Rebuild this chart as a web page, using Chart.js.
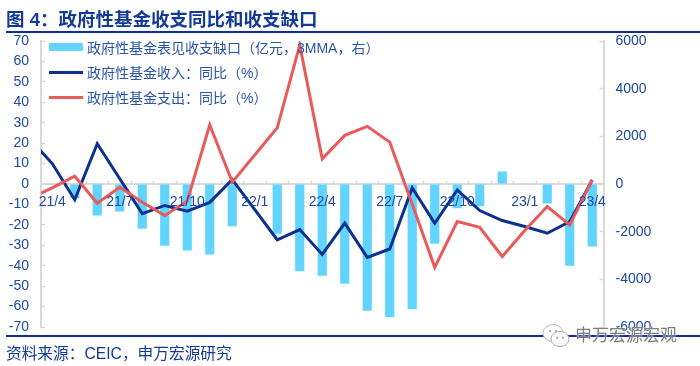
<!DOCTYPE html>
<html>
<head>
<meta charset="utf-8">
<script src="https://cdn.jsdelivr.net/npm/chart.js@4"></script>
<style>
  body { margin: 0; background: #fff; font-family: "Liberation Sans", "Noto Sans CJK SC", sans-serif; }
  #wrap { position: relative; width: 700px; height: 366px; overflow: hidden; }
  canvas { position: absolute; left: 0; top: 0; }
  .title { position: absolute; left: 6px; top: 8px; font-size: 18.5px; line-height: 24px; font-weight: bold; color: #123a96; white-space: nowrap; }
  .rule { position: absolute; left: 6px; width: 694px; height: 2px; background: #0a2ea0; }
  .source { position: absolute; left: 6px; top: 344px; font-size: 15.7px; line-height: 20px; color: #123a96; white-space: nowrap; }
  .legend-row { position: absolute; left: 49px; height: 20px; display: flex; align-items: center; font-size: 14px; color: #2a54a8; white-space: nowrap; }
  .legend-row i { display: block; width: 34px; margin-right: 4px; }
  .mark { position: absolute; left: 575px; top: 326px; font-size: 17px; line-height: 20px; color: #7d7d7d; white-space: nowrap; text-shadow: 0 0 2px #fff; }
  svg { position: absolute; left: 542px; top: 323px; }
</style>
</head>
<body>
<div id="wrap">
  <canvas id="fundChart" width="700" height="366"></canvas>
  <div class="title">图 4：政府性基金收支同比和收支缺口</div>
  <div class="rule" style="top:31px"></div>
  <div class="rule" style="top:335px"></div>
  <div class="source">资料来源：CEIC，申万宏源研究</div>
  <div id="legend"></div>
  <svg width="28" height="26" viewBox="0 0 28 26">
    <ellipse cx="11" cy="10" rx="10" ry="8.5" fill="#fff" stroke="#bbb"/>
    <ellipse cx="18" cy="16" rx="9" ry="7.5" fill="#fff" stroke="#aaa"/>
    <circle cx="8" cy="8" r="1" fill="#999"/><circle cx="14" cy="8" r="1" fill="#999"/>
    <circle cx="15" cy="15" r="1" fill="#999"/><circle cx="21" cy="15" r="1" fill="#999"/>
  </svg>
  <div class="mark">申万宏源宏观</div>
</div>
<script>
const categories = ['21/3', '21/4', '21/5', '21/6', '21/7', '21/8', '21/9', '21/10', '21/11', '21/12',
  '22/1', '22/2', '22/3', '22/4', '22/5', '22/6', '22/7', '22/8', '22/9', '22/10', '22/11', '22/12',
  '23/1', '23/2', '23/3', '23/4'];
const tickLabels = ['21/4', '21/7', '21/10', '22/1', '22/4', '22/7', '22/10', '23/1', '23/4'];

// right axis, 100 million yuan (21/3 sits left of the axis, only its line segment shows)
const gapValues = [null, -30, -600, -1320, -1155, -1880, -2590, -2790, -2960, -1770,
  0, -2090, -3660, -3850, -4190, -5320, -5590, -5240, -2510, -1015, -930, 525,
  0, -820, -3430, -2620];
const incomeValues = [22, 10, -7.7, 19.7, 2.6, -14.5, -10.5, -13.3, -9, 2.2,
  -12.5, -27.3, -22.3, -34.5, -19.2, -35.9, -31.8, -1.9, -19.2, -2.9, -13, -17.9,
  -20.8, -24.1, -18.4, 2];
const spendValues = [-7, -1.9, 3.8, -9.4, -1.6, -8.9, -15.4, -8.4, 29, 0.9,
  14.2, 27.5, 68, 12.3, 23.8, 28.2, 20.5, -9.9, -40.8, -18.4, -21.2, -35.5,
  -22.8, -11, -20, 2];

const gapName = '政府性基金表见收支缺口（亿元，3MMA，右）';
const incomeName = '政府性基金收入：同比（%）';
const spendName = '政府性基金支出：同比（%）';

const barColor = '#61d4ff';
const incomeColor = '#0b318f';
const spendColor = '#e95a5a';
const axisGray = '#d9d9d9';
const axisText = '#1f49a5';

// legend sits over the plot, so it is laid out by hand
const legendRows = [
  { name: gapName, color: barColor, h: 8, top: 37 },
  { name: incomeName, color: incomeColor, h: 3, top: 62 },
  { name: spendName, color: spendColor, h: 3, top: 87 }
];
const legendEl = document.getElementById('legend');
legendRows.forEach(row => {
  const div = document.createElement('div');
  div.className = 'legend-row';
  div.style.top = row.top + 'px';
  div.innerHTML = '<i style="height:' + row.h + 'px;background:' + row.color + '"></i>' + row.name;
  legendEl.appendChild(div);
});

const ctx = document.getElementById('fundChart').getContext('2d');
new Chart(ctx, {
  data: {
    labels: categories,
    datasets: [
      { type: 'line', label: spendName, data: spendValues, yAxisID: 'y', borderColor: spendColor, borderWidth: 3, pointRadius: 0, tension: 0, order: 1 },
      { type: 'line', label: incomeName, data: incomeValues, yAxisID: 'y', borderColor: incomeColor, borderWidth: 3, pointRadius: 0, tension: 0, order: 2 },
      { type: 'bar', label: gapName, data: gapValues, yAxisID: 'y2', backgroundColor: barColor, barPercentage: 0.41, categoryPercentage: 1, order: 3 }
    ]
  },
  options: {
    responsive: false,
    animation: false,
    layout: { padding: { top: 41, bottom: 39 } },
    plugins: { legend: { display: false }, tooltip: { enabled: false } },
    scales: {
      x: {
        type: 'category',
        min: '21/4',
        offset: true,
        position: { y: 0 },
        grid: { offset: true, drawOnChartArea: false, tickLength: -4, tickColor: axisGray, tickWidth: 1.5 },
        border: { color: axisGray, width: 2 },
        ticks: {
          z: 1,
          autoSkip: false,
          maxRotation: 0,
          padding: 14,
          color: axisText,
          font: { size: 14, family: '"Liberation Sans"' },
          callback: function (value) {
            const label = this.getLabelForValue(value);
            return tickLabels.includes(label) ? label : '';
          }
        }
      },
      y: {
        position: 'left',
        min: -70,
        max: 70,
        afterFit: scale => { scale.width = 41; },
        grid: { drawOnChartArea: false, tickLength: -4, tickColor: axisGray, tickWidth: 1.5 },
        border: { color: axisGray, width: 2 },
        ticks: { stepSize: 10, padding: 16, color: axisText, font: { size: 14, family: '"Liberation Sans"' } }
      },
      y2: {
        position: 'right',
        min: -6000,
        max: 6000,
        afterFit: scale => { scale.width = 96.5; },
        grid: { drawOnChartArea: false, tickLength: -4, tickColor: axisGray, tickWidth: 1.5 },
        border: { color: axisGray, width: 2 },
        ticks: { stepSize: 2000, padding: 16, color: axisText, font: { size: 14, family: '"Liberation Sans"' }, callback: value => String(value) }
      }
    }
  }
});
</script>
</body>
</html>
